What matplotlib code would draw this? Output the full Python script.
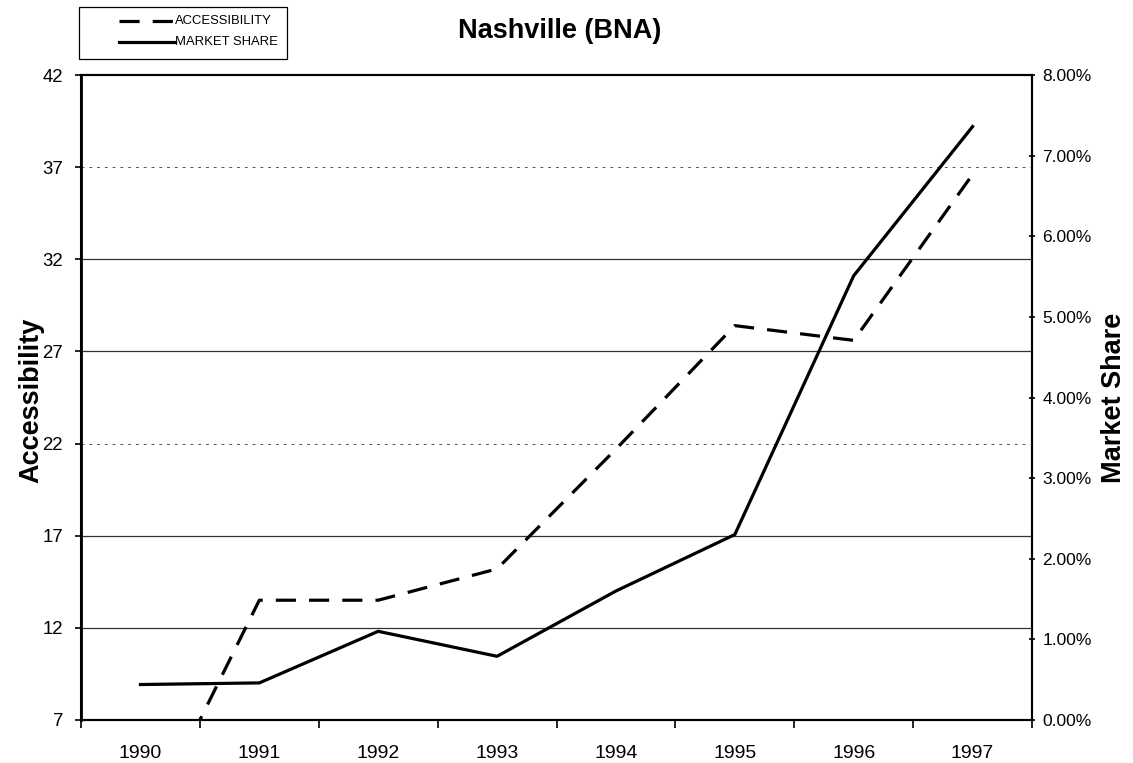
import matplotlib
matplotlib.use('Agg')
import matplotlib.pyplot as plt
import numpy as np
from matplotlib.lines import Line2D
from matplotlib.patches import Rectangle
from matplotlib.ticker import FuncFormatter

years = ['1990', '1991', '1992', '1993', '1994', '1995', '1996', '1997']
accessibility = [0.5, 13.5, 13.5, 15.2, 21.7, 28.4, 27.6, 36.6]
market_share = [0.44, 0.46, 1.10, 0.79, 1.60, 2.30, 5.51, 7.36]  # percent

acc_ticks = [7, 12, 17, 22, 27, 32, 37, 42]
share_ticks = [0, 1, 2, 3, 4, 5, 6, 7, 8]

plt.rcParams['font.family'] = ['Liberation Sans', 'DejaVu Sans']

W, H = 1133, 763
fig = plt.figure(figsize=(W / 100, H / 100), dpi=100)
ax = fig.add_axes([81 / W, 1 - 720 / H, 951 / W, 645 / H])
ax2 = ax.twinx()

x = np.arange(len(years))
dash = (0, (6.3, 4.1))
lw = 2.3

# horizontal grid lines at accessibility ticks (22 and 37 look faded in the scan)
for t in acc_ticks[1:-1]:
    if t in (22, 37):
        ax.axhline(t, color='#555555', lw=0.7, ls=(0, (3, 5)), zorder=1)
    else:
        ax.axhline(t, color='#333333', lw=0.9, zorder=1)

ax.plot(x, accessibility, color='black', lw=lw, ls=dash, zorder=3)
ax2.plot(x, market_share, color='black', lw=lw, zorder=3)

ax.set_xlim(-0.5, len(years) - 0.5)
ax.set_ylim(7, 42)
ax2.set_ylim(0, 8)
ax.set_yticks(acc_ticks)
ax2.set_yticks(share_ticks)
ax2.yaxis.set_major_formatter(FuncFormatter(lambda v, p: '%.2f%%' % v))

# tick marks between categories, labels at category centres
ax.set_xticks(np.arange(-0.5, len(years) - 0.4, 1.0))
ax.set_xticklabels([])
ax.set_xticks(x, minor=True)
ax.set_xticklabels(years, minor=True)
ax.tick_params(axis='x', which='major', length=6, direction='out', width=1.2)
ax.tick_params(axis='x', which='minor', length=0, labelsize=14, pad=18)
ax.tick_params(axis='y', length=4, direction='out', labelsize=13.4, pad=9, width=1.2)
ax2.tick_params(axis='y', length=5, direction='inout', labelsize=12.5, pad=5, width=1.2)

for a in (ax, ax2):
    for s in a.spines.values():
        s.set_linewidth(1.5)
ax.spines['left'].set_linewidth(2)

fig.text(31 / W, 1 - 400 / H, 'Accessibility', fontsize=19.5, fontweight='bold',
         rotation=90, ha='center', va='center')
fig.text(1114 / W, 1 - 398 / H, 'Market Share', fontsize=19.5, fontweight='bold',
         rotation=90, ha='center', va='center')
fig.text(560 / W, 1 - 38 / H, 'Nashville (BNA)', fontsize=19.5, fontweight='bold',
         ha='center', va='baseline')

# legend box drawn by hand to match the boxed key at top left
fig.add_artist(Rectangle((79 / W, 1 - 59 / H), 208 / W, 51.5 / H, transform=fig.transFigure,
                         facecolor='white', edgecolor='black', lw=0.9))
legend_rows = [('ACCESSIBILITY', dash, 20.7), ('MARKET SHARE', '-', 42.0)]
for label, style, yy in legend_rows:
    fig.add_artist(Line2D([119 / W, 175 / W], [1 - yy / H, 1 - yy / H],
                          transform=fig.transFigure, color='black', lw=lw, ls=style))
    fig.text(175 / W, 1 - yy / H, label, fontsize=9.4, ha='left', va='center')

fig.savefig('out.png', dpi=100)
